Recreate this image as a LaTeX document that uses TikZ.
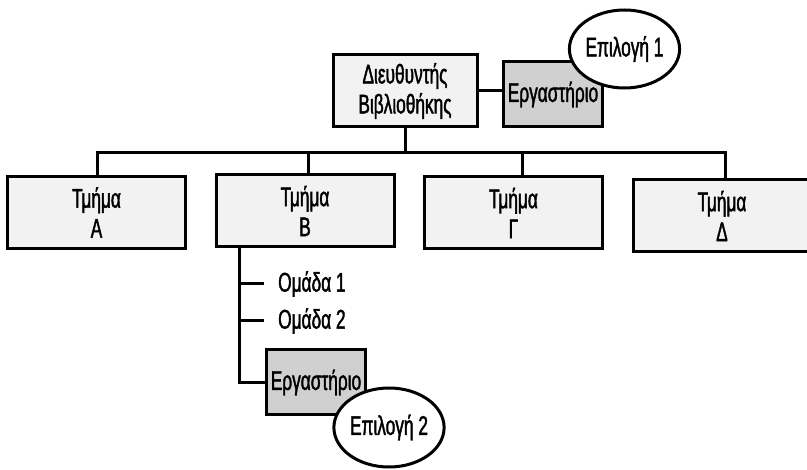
\documentclass[tikz,border=0pt]{standalone}
\usepackage{fontspec}
\setmainfont{Liberation Sans}[FakeStretch=0.64, FakeBold=1.5]
\usetikzlibrary{shapes.geometric}
\definecolor{paleunit}{HTML}{F2F2F2}
\definecolor{darkunit}{HTML}{D0D0D0}
\tikzset{
  unit/.style={draw, line width=3pt, fill=paleunit, align=center, inner sep=0pt,
    minimum width=178pt, minimum height=72pt},
  lab/.style={unit, fill=darkunit, minimum width=99pt, minimum height=65pt},
  option/.style={ellipse, draw, line width=3pt, fill=white, inner sep=0pt},
  link/.style={line width=3pt},
  group/.style={anchor=west, inner sep=0pt}
}
\begin{document}
\begin{tikzpicture}[x=1pt, y=-1pt, font=\fontsize{27}{30}\selectfont]
\useasboundingbox (0,0) rectangle (807,470);
\node[unit, minimum width=144pt] (dir) at (405,91) {Διευθυντής\\Βιβλιοθήκης};
\node[lab] (lab1) at (553,94.5) {Εργαστήριο};
\node[option, minimum width=95pt, minimum height=78pt] (opt1) at (624.5,49) {Επιλογή 1};
\node[unit] (tA) at (96.5,212.5) {Τμήμα\\Α};
\node[unit] (tB) at (305,211) {Τμήμα\\Β};
\node[unit] (tG) at (513.5,213) {Τμήμα\\Γ};
\node[unit] (tD) at (722,216) {Τμήμα\\Δ};
\coordinate (bus) at (405,153);
\draw[link] (dir.south) -- (bus);
\draw[link] (dir.east) -- (dir.east -| lab1.west);
\draw[link] ([xshift=0.5pt]tA.north) |- (bus) -| ([xshift=3pt]tD.north);
\draw[link] ([xshift=3pt]tB.north) -- ([xshift=3pt]tB.north |- bus);
\draw[link] ([xshift=8.5pt]tG.north) -- ([xshift=8.5pt]tG.north |- bus);

\node[group] (grp1) at (278,284) {Ομάδα 1};
\node[group] (grp2) at (278,321) {Ομάδα 2};
\node[lab] (lab2) at (316,382.5) {Εργαστήριο};
\node[option, minimum width=102pt, minimum height=79pt] (opt2) at (389,427.5) {Επιλογή 2};
\coordinate (stem) at ([xshift=25pt]tB.south west);
\draw[link] (stem) |- (lab2.west);
\draw[link] (stem |- grp1.west) -- ([xshift=-14pt]grp1.west);
\draw[link] (stem |- grp2.west) -- ([xshift=-14pt]grp2.west);
\end{tikzpicture}
\end{document}
